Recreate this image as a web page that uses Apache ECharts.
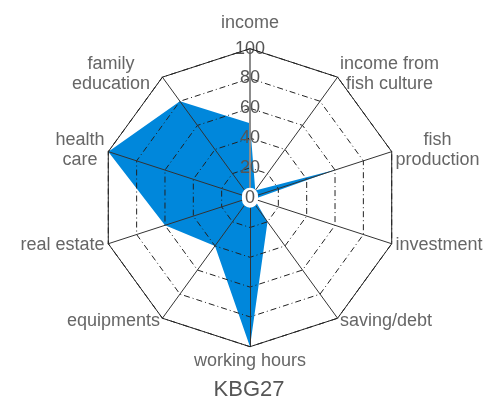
<!DOCTYPE html>
<html>
<head>
<meta charset="utf-8">
<script src="https://cdn.jsdelivr.net/npm/echarts@6/dist/echarts.min.js"></script>
<style>
  html, body { margin: 0; padding: 0; background: #fff; }
  #chart { width: 498px; height: 401px; }
</style>
</head>
<body>
<div id="chart"></div>
<script>
  // axes of the radar, clockwise from the top
  const indicatorNames = [
    'income', 'income from\nfish culture', 'fish\nproduction', 'investment', 'saving/debt',
    'working hours', 'equipments', 'real estate', 'health\ncare', 'family\neducation'
  ]
  const kbg27Values = [50, 6, 61, 3, 20, 100, 40, 60, 100, 80]
  const tickLabels = [0, 20, 40, 60, 80, 100]
  const titleText = 'KBG27'

  const axisMax = tickLabels[tickLabels.length - 1]
  const font = 'Liberation Sans, Arial, sans-serif'
  const center = ['50.2%', '49.3%']
  const radius = 149

  // echarts lays radar axes out counter-clockwise, so keep the first one and flip the rest
  const ccw = (arr) => [arr[0]].concat(arr.slice(1).reverse())

  // a few names sit a bit further from their vertex
  const nameStyleKey = (name) => {
    if (name === 'income') return 't'
    if (name.indexOf('family') === 0) return 'f'
    return 'c'
  }

  const chart = echarts.init(document.getElementById('chart'))

  const indicators = ccw(indicatorNames).map((name, i) => {
    const ind = { name: name, max: axisMax, min: 0 }
    if (i === 0) {
      // the labelled axis, drawn grey and thicker
      ind.axisLabel = { show: true }
      ind.axisLine = { lineStyle: { color: '#8c8c8c', width: 2 } }
    }
    return ind
  })

  const nameText = { fontFamily: font, fontSize: 18, color: '#666', lineHeight: 20, align: 'center' }

  chart.setOption({
    animation: false,
    title: {
      text: titleText,
      left: 'center',
      top: 374,
      textStyle: { fontFamily: font, fontSize: 22, fontWeight: 'normal', color: '#555' }
    },
    radar: [{
      // inner rings, spokes, tick labels
      center: center,
      radius: radius,
      startAngle: 90,
      splitNumber: tickLabels.length - 1,
      shape: 'polygon',
      z: 5,
      indicator: indicators,
      axisName: {
        fontFamily: font,
        fontSize: 18,
        color: '#666',
        formatter: (name) => {
          const key = nameStyleKey(name)
          return name.split('\n').map(s => '{' + key + '|' + s + '}').join('\n')
        },
        rich: {
          c: nameText,
          t: Object.assign({}, nameText, { padding: [0, 0, 8, 0] }),
          f: Object.assign({}, nameText, { padding: [0, 10, 0, 0] })
        }
      },
      nameGap: 4,
      axisLine: { lineStyle: { color: '#333', width: 1 } },
      axisTick: { show: false },
      axisLabel: {
        show: false,
        margin: 0,
        align: 'center',
        verticalAlign: 'middle',
        fontFamily: font,
        fontSize: 18,
        color: '#555',
        formatter: (v) => v === 0 ? '{z|0}' : String(v),
        rich: {
          z: { backgroundColor: '#fff', borderRadius: 9, padding: [1, 3, 1, 3], fontFamily: font, fontSize: 18, color: '#555' }
        }
      },
      splitLine: { lineStyle: { color: '#222', width: 1, type: [6, 3, 1, 3] } },
      splitArea: { show: false }
    }, {
      // solid outer ring
      center: center,
      radius: radius,
      startAngle: 90,
      splitNumber: 1,
      shape: 'polygon',
      z: 6,
      indicator: indicatorNames.map(() => ({ name: '', max: axisMax, min: 0 })),
      axisName: { show: false },
      axisLine: { show: false },
      axisTick: { show: false },
      axisLabel: { show: false },
      splitLine: { lineStyle: { color: '#222', width: 1 } },
      splitArea: { show: false }
    }],
    series: [{
      name: titleText,
      type: 'radar',
      radarIndex: 0,
      z: 1,
      symbol: 'none',
      lineStyle: { width: 0 },
      areaStyle: { color: '#0087db', opacity: 1 },
      data: [{ value: ccw(kbg27Values), name: titleText }]
    }]
  })
</script>
</body>
</html>
